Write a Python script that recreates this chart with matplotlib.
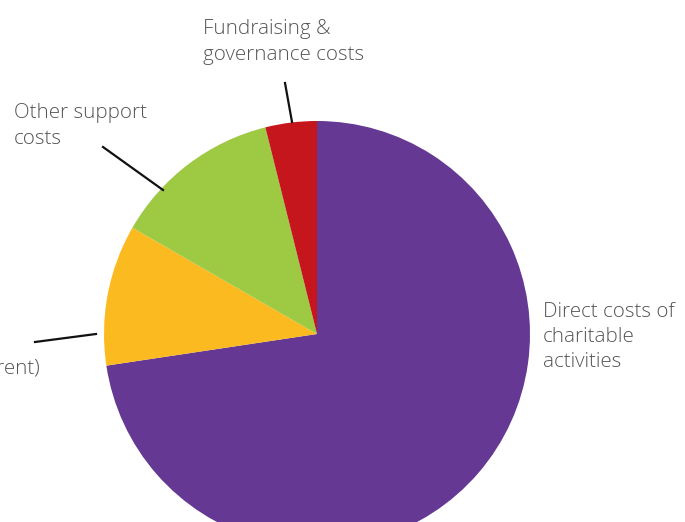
import matplotlib
matplotlib.use("Agg")
import matplotlib.pyplot as plt

# Expenditure breakdown (share of total, %)
categories = ["Direct costs of\ncharitable\nactivities",
              "Premises costs (incl. rent)",
              "Other support\ncosts",
              "Fundraising &\ngovernance costs"]
shares = [72.7, 10.7, 12.8, 3.9]
colours = ["#643893", "#FBBA20", "#9DC943", "#C4161C"]

W, H = 685, 522
CX, CY, R = 317, 334, 213   # pie centre/radius in pixels (top-left origin)

fig = plt.figure(figsize=(W / 100, H / 100), dpi=100)
ax = fig.add_axes([(CX - R) / W, (H - CY - R) / H, 2 * R / W, 2 * R / H])
ax.pie(shares, colors=colours, startangle=90, counterclock=False,
       radius=1, wedgeprops=dict(linewidth=0))
ax.set_xlim(-1, 1)
ax.set_ylim(-1, 1)
ax.set_aspect("equal")
ax.axis("off")


def px(x, y):
    # pixel position -> data coords of the pie axes
    return (x - CX) / R, (CY - y) / R


text_style = dict(fontsize=14.8, color="#555555", linespacing=1.36,
                  family=["Open Sans", "DejaVu Sans"], fontweight="light",
                  clip_on=False)

# label position (px), alignment, leader line (px) or None
labels = [
    ((543, 337), "left", None),
    ((40, 368), "right", ((35, 342), (96, 334))),
    ((14, 126), "left", ((103, 147), (163, 190))),
    ((203, 42), "left", ((285, 83), (292, 122))),
]

for name, (pos, ha, line) in zip(categories, labels):
    x, y = px(*pos)
    ax.text(x, y, name, ha=ha, va="center", **text_style)
    if line:
        (x0, y0), (x1, y1) = px(*line[0]), px(*line[1])
        ax.plot([x0, x1], [y0, y1], color="#111111", lw=1.6, clip_on=False)

fig.savefig("out.png", dpi=100)
